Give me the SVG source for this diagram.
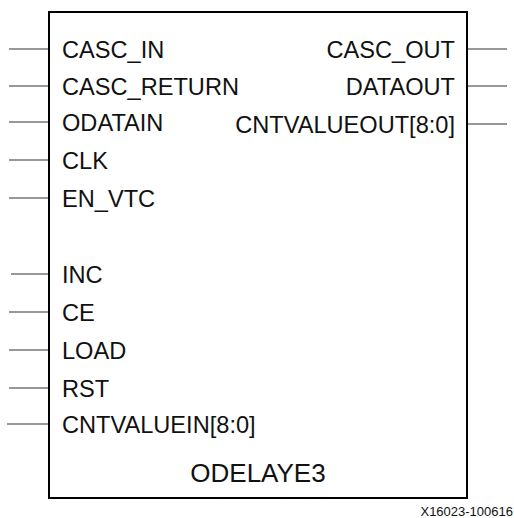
<svg xmlns="http://www.w3.org/2000/svg" width="514" height="518" viewBox="0 0 514 518">
<style>
.pin{stroke:#333;stroke-width:1.2;fill:none}
.lbl{font-family:"Liberation Sans",Arial,sans-serif;font-size:23.6px;fill:#111}
.r{text-anchor:end}
.title{font-family:"Liberation Sans",Arial,sans-serif;font-size:26px;fill:#111;text-anchor:middle}
.note{font-family:"Liberation Sans",Arial,sans-serif;font-size:13px;fill:#111;text-anchor:end}
</style>
<rect width="514" height="518" fill="#fff"/>
<g id="connectors">
<line class="pin" x1="9" y1="49" x2="49" y2="49"/>
<line class="pin" x1="9" y1="86" x2="49" y2="86"/>
<line class="pin" x1="9" y1="122" x2="49" y2="122"/>
<line class="pin" x1="9" y1="160" x2="49" y2="160"/>
<line class="pin" x1="9" y1="198" x2="49" y2="198"/>
<line class="pin" x1="11" y1="274" x2="49" y2="274"/>
<line class="pin" x1="9" y1="312" x2="49" y2="312"/>
<line class="pin" x1="9" y1="350" x2="49" y2="350"/>
<line class="pin" x1="9" y1="388" x2="49" y2="388"/>
<line class="pin" x1="7" y1="424" x2="49" y2="424"/>
<line class="pin" x1="467" y1="49" x2="507" y2="49"/>
<line class="pin" x1="467" y1="86" x2="507" y2="86"/>
<line class="pin" x1="467" y1="124" x2="507" y2="124"/>
</g>
<g id="odelaye3">
<rect x="49" y="12" width="418" height="486" fill="none" stroke="#000" stroke-width="2"/>
<text class="lbl" x="62" y="58">CASC_IN</text>
<text class="lbl" x="62" y="95">CASC_RETURN</text>
<text class="lbl" x="62" y="131">ODATAIN</text>
<text class="lbl" x="62" y="169">CLK</text>
<text class="lbl" x="62" y="207">EN_VTC</text>
<text class="lbl" x="62" y="283">INC</text>
<text class="lbl" x="62" y="321">CE</text>
<text class="lbl" x="62" y="359">LOAD</text>
<text class="lbl" x="62" y="397">RST</text>
<text class="lbl" x="62" y="433">CNTVALUEIN[8:0]</text>
<text class="lbl r" x="455" y="58">CASC_OUT</text>
<text class="lbl r" x="455" y="95">DATAOUT</text>
<text class="lbl r" x="455" y="133">CNTVALUEOUT[8:0]</text>
<text class="title" x="258" y="482">ODELAYE3</text>
</g>
<text class="note" x="513" y="516">X16023-100616</text>
</svg>
